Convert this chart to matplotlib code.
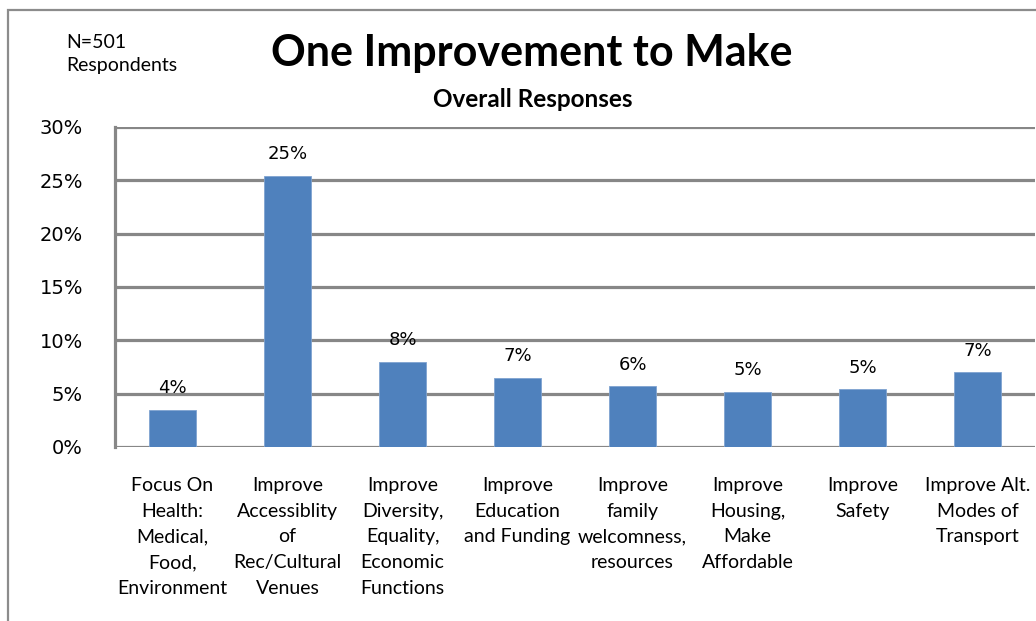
import matplotlib
matplotlib.use("Agg")
import matplotlib.pyplot as plt
from matplotlib.patches import Rectangle
from matplotlib.transforms import blended_transform_factory

categories = [
    "Focus On\nHealth:\nMedical,\nFood,\nEnvironment",
    "Improve\nAccessiblity\nof\nRec/Cultural\nVenues",
    "Improve\nDiversity,\nEquality,\nEconomic\nFunctions",
    "Improve\nEducation\nand Funding",
    "Improve\nfamily\nwelcomness,\nresources",
    "Improve\nHousing,\nMake\nAffordable",
    "Improve\nSafety",
    "Improve Alt.\nModes of\nTransport",
]
values = [3.5, 25.4, 8.0, 6.5, 5.7, 5.2, 5.4, 7.0]
value_labels = ["4%", "25%", "8%", "7%", "6%", "5%", "5%", "7%"]
yticks = [0, 5, 10, 15, 20, 25, 30]
ytick_labels = ["0%", "5%", "10%", "15%", "20%", "25%", "30%"]

W, H = 1036, 621
fig = plt.figure(figsize=(W / 100, H / 100), dpi=100)
fig.patch.set_facecolor("white")

# chart border
fig.patches.append(Rectangle((8 / W, -0.05), 1.2, (H - 10) / H + 0.05,
                             transform=fig.transFigure, fill=False,
                             edgecolor="#8c8c8c", linewidth=1.6))

left, right, top, bottom = 115, 1035, 127, 447
ax = fig.add_axes([left / W, (H - bottom) / H, (right - left) / W, (bottom - top) / H])

x = list(range(len(values)))
ax.bar(x, values, width=0.41, color="#4F81BD", edgecolor="#7fa3d0", linewidth=0.6, zorder=3)
ax.set_xlim(-0.5, len(values) - 0.5)
ax.set_ylim(0, 30)

ax.set_yticks(yticks)
ax.set_yticklabels(ytick_labels, fontsize=14, family="DejaVu Sans")
ax.tick_params(axis="y", length=0, pad=23)
ax.set_xticks([])
ax.grid(axis="y", color="#878787", linewidth=2.3, zorder=1)
ax.set_axisbelow(True)
for s in ["top", "right", "bottom"]:
    ax.spines[s].set_visible(False)
ax.spines["left"].set_color("#878787")
ax.spines["left"].set_linewidth(2.3)

for xi, v, lab in zip(x, values, value_labels):
    ax.annotate(lab, (xi, v), xytext=(0, 12), textcoords="offset points",
                ha="center", va="baseline", fontsize=13, family="DejaVu Sans")

trans = blended_transform_factory(ax.transData, fig.transFigure)
for xi, cat in zip(x, categories):
    ax.text(xi, 1 - 477 / H, cat, transform=trans, ha="center", va="top",
            fontsize=14, family="Lato", linespacing=1.62)

fig.text(532 / W, 1 - 66 / H, "One Improvement to Make", ha="center", va="baseline",
         fontsize=31, fontweight="bold", family="Lato")
fig.text(533 / W, 1 - 107 / H, "Overall Responses", ha="center", va="baseline",
         fontsize=17.5, fontweight="bold", family="Lato")
fig.text(66 / W, 1 - 48 / H, "N=501", ha="left", va="baseline", fontsize=14, family="Lato")
fig.text(66 / W, 1 - 71 / H, "Respondents", ha="left", va="baseline", fontsize=14, family="Lato")

fig.savefig("out.png", dpi=100, facecolor="white")
